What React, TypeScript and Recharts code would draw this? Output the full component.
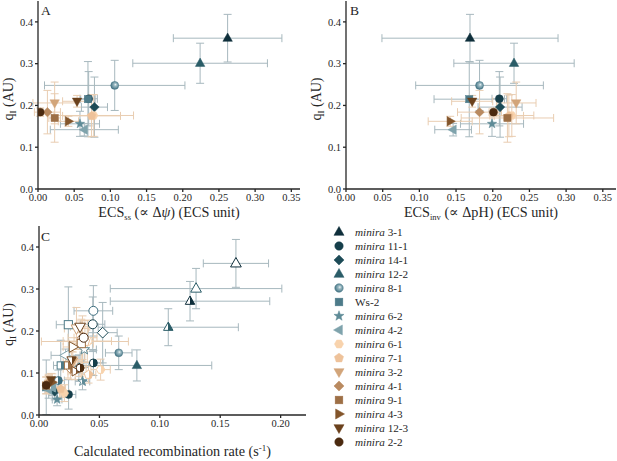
import type { ReactNode } from 'react';
import { ErrorBar, Scatter, ScatterChart, XAxis, YAxis } from 'recharts';

const strains = [
  'minira 3-1', 'minira 11-1', 'minira 14-1', 'minira 12-2',
  'minira 8-1', 'Ws-2', 'minira 6-2', 'minira 4-2',
  'minira 6-1', 'minira 7-1', 'minira 3-2', 'minira 4-1',
  'minira 9-1', 'minira 4-3', 'minira 12-3', 'minira 2-2',
];

// q_I and its error (same condition in A, B and the open markers of C)
const qI = [0.361, 0.216, 0.196, 0.301, 0.248, 0.215, 0.156, 0.142, 0.176, 0.175, 0.206, 0.184, 0.170, 0.162, 0.210, 0.184];
const qIErr = [0.057, 0.065, 0.072, 0.048, 0.060, 0.090, 0.030, 0.015, 0.050, 0.050, 0.050, 0.052, 0.058, 0.012, 0.014, 0.010];

// panel A
const ecsSs = [0.262, 0.070, 0.078, 0.224, 0.106, 0.069, 0.058, 0.064, 0.077, 0.074, 0.023, 0.013, 0.023, 0.042, 0.054, 0.003];
const ecsSsErr = [0.075, 0.012, 0.018, 0.093, 0.097, 0.010, 0.027, 0.047, 0.055, 0.040, 0.030, 0.018, 0.008, 0.014, 0.020, 0.004];

// panel B
const ecsInv = [0.169, 0.209, 0.210, 0.229, 0.182, 0.168, 0.199, 0.146, 0.226, 0.222, 0.232, 0.182, 0.220, 0.142, 0.172, 0.201];
const ecsInvErr = [0.120, 0.010, 0.030, 0.082, 0.087, 0.048, 0.043, 0.025, 0.030, 0.020, 0.027, 0.030, 0.063, 0.030, 0.028, 0.006];

// panel C, open markers
const rateHigh = [0.163, 0.0445, 0.0527, 0.130, 0.045, 0.0243, 0.0375, 0.022, 0.040, 0.038, 0.031, 0.036, 0.035, 0.028, 0.034, 0.037];
const rateHighErr = [0.027, 0.010, 0.012, 0.071, 0.016, 0.010, 0.010, 0.012, 0.020, 0.036, 0.010, 0.012, 0.010, 0.008, 0.008, 0.008];

// panel C, half-filled markers
const rateMid = [0.125, 0.045, 0.033, 0.107, 0.016, 0.018, 0.036, 0.011, 0.051, 0.041, 0.028, 0.026, 0.024, 0.030, 0.027, 0.034];
const rateMidErr = [0.066, 0.008, 0.008, 0.058, 0.005, 0.006, 0.006, 0.004, 0.008, 0.006, 0.008, 0.006, 0.006, 0.006, 0.005, 0.005];
const qIMid = [0.271, 0.124, 0.113, 0.209, 0.082, 0.118, 0.080, 0.066, 0.108, 0.096, 0.128, 0.110, 0.118, 0.104, 0.131, 0.112];
const qIMidErr = [0.047, 0.030, 0.030, 0.044, 0.025, 0.060, 0.020, 0.020, 0.025, 0.020, 0.030, 0.025, 0.030, 0.020, 0.020, 0.020];

// panel C, filled markers (no value for 3-1)
const rateLow = [null, 0.0245, 0.013, 0.081, 0.066, 0.006, 0.015, 0.008, 0.021, 0.018, 0.008, 0.008, 0.006, 0.011, 0.010, 0.006];
const rateLowErr = [0, 0.006, 0.004, 0.062, 0.011, 0.003, 0.004, 0.003, 0.004, 0.004, 0.003, 0.003, 0.003, 0.003, 0.003, 0.003];
const qILow = [null, 0.049, 0.056, 0.118, 0.148, 0.066, 0.037, 0.060, 0.052, 0.062, 0.074, 0.077, 0.070, 0.078, 0.084, 0.071];
const qILowErr = [0, 0.035, 0.020, 0.037, 0.040, 0.065, 0.015, 0.020, 0.020, 0.020, 0.020, 0.020, 0.020, 0.020, 0.015, 0.020];

const xTicksAB = [0, 0.05, 0.1, 0.15, 0.2, 0.25, 0.3, 0.35];
const xTicksC = [0, 0.05, 0.1, 0.15, 0.2];
const yTicks = [0, 0.1, 0.2, 0.3, 0.4];

// styling per strain
const shapes = [
  'triUp', 'circle', 'diamond', 'triUp', 'sphere', 'square', 'star', 'triLeft',
  'hexagon', 'pentagon', 'triDown', 'diamond', 'square', 'triRight', 'triDown', 'circle',
];
const colors = [
  '#0f2f3b', '#163f4b', '#1d4b57', '#2b5d68', '#3d6e7f', '#4d7b89', '#5e8b97', '#7fa3ac',
  '#f8d3ad', '#eec29a', '#d2a57a', '#b98a60', '#9d6f45', '#83552b', '#6b411c', '#4b2a10',
];

const SERIF = '"Liberation Serif", "DejaVu Serif", serif';
const INK = '#262626';
const errColor = (i: number) => (i < 8 ? '#a7b8be' : '#e9cdb1');

type Mode = 'full' | 'open' | 'half';
type Row = { x: number; y: number; ex: number; ey: number; s: number; mode: Mode };

function Glyph({ s, cx, cy, r, mode }: { s: number; cx: number; cy: number; r: number; mode: Mode }) {
  const kind = shapes[s];
  const color = colors[s];
  const fill =
    mode === 'open' ? '#fff' : mode === 'half' ? `url(#half${s})` : kind === 'sphere' ? 'url(#sphere)' : color;
  const p = { fill, stroke: color, strokeWidth: mode === 'full' ? 0.5 : 1 };
  const poly = (pts: number[][]) => pts.map(([a, b]) => `${cx + a * r},${cy + b * r}`).join(' ');
  const ngon = (n: number, rot: number, rr = 1) =>
    Array.from({ length: n }, (_, k) => {
      const t = rot + (k * 2 * Math.PI) / n;
      return [rr * Math.cos(t), rr * Math.sin(t)];
    });
  switch (kind) {
    case 'triUp':
      return <polygon points={poly([[0, -1.15], [1.05, 0.7], [-1.05, 0.7]])} {...p} />;
    case 'triDown':
      return <polygon points={poly([[0, 1.15], [1.05, -0.7], [-1.05, -0.7]])} {...p} />;
    case 'triLeft':
      return <polygon points={poly([[-1.15, 0], [0.7, -1.05], [0.7, 1.05]])} {...p} />;
    case 'triRight':
      return <polygon points={poly([[1.15, 0], [-0.7, -1.05], [-0.7, 1.05]])} {...p} />;
    case 'diamond':
      return <polygon points={poly([[0, -1.05], [1.05, 0], [0, 1.05], [-1.05, 0]])} {...p} />;
    case 'square':
      return <rect x={cx - 0.8 * r} y={cy - 0.8 * r} width={1.6 * r} height={1.6 * r} {...p} />;
    case 'star': {
      const pts = Array.from({ length: 10 }, (_, k) => {
        const t = -Math.PI / 2 + (k * Math.PI) / 5;
        const rr = k % 2 === 0 ? 1.1 : 0.45;
        return [rr * Math.cos(t), rr * Math.sin(t)];
      });
      return <polygon points={poly(pts)} {...p} />;
    }
    case 'hexagon':
      return <polygon points={poly(ngon(6, 0, 0.95))} {...p} />;
    case 'pentagon':
      return <polygon points={poly(ngon(5, -Math.PI / 2, 1))} {...p} />;
    default:
      return <circle cx={cx} cy={cy} r={0.88 * r} {...p} />;
  }
}

const makeShape = (r: number) => (props: any) => {
  const { cx, cy, payload } = props;
  if (cx == null || cy == null) return <g />;
  const rr = payload.mode === 'open' ? r + 0.6 : r;
  return <Glyph s={payload.s} cx={cx} cy={cy} r={rr} mode={payload.mode} />;
};

const rowsAB = (xs: number[], xe: number[]): Row[][] =>
  strains.map((_, s) => [{ x: xs[s], y: qI[s], ex: xe[s], ey: qIErr[s], s, mode: 'full' as Mode }]);

const rowsC: Row[][] = strains.map((_, s) => {
  const out: Row[] = [];
  const low = rateLow[s];
  const lowQ = qILow[s];
  if (low != null && lowQ != null) out.push({ x: low, y: lowQ, ex: rateLowErr[s], ey: qILowErr[s], s, mode: 'full' });
  out.push({ x: rateMid[s], y: qIMid[s], ex: rateMidErr[s], ey: qIMidErr[s], s, mode: 'half' });
  out.push({ x: rateHigh[s], y: qI[s], ex: rateHighErr[s], ey: qIErr[s], s, mode: 'open' });
  return out;
});

const tickStyle = { fill: INK, fontSize: 10.5, fontFamily: SERIF };

function YTitle({ viewBox }: any) {
  const cx = viewBox.x + 12.5;
  const cy = viewBox.y + viewBox.height / 2 + 4;
  return (
    <text transform={`translate(${cx},${cy}) rotate(-90)`} textAnchor="middle" fontSize={14} fontFamily={SERIF} fill={INK}>
      q<tspan fontSize={9} dy={3}>I</tspan>
      <tspan dy={-3}> (AU)</tspan>
    </text>
  );
}

const xTitle = (content: ReactNode, dy: number) =>
  function XTitle({ viewBox }: any) {
    return (
      <text x={viewBox.x + viewBox.width / 2} y={viewBox.y + dy} textAnchor="middle" fontSize={14.2} fontFamily={SERIF} fill={INK}>
        {content}
      </text>
    );
  };

function Panel({
  width,
  height,
  xMax,
  xTicks,
  yAxisWidth,
  xAxisHeight,
  margin,
  series,
  r,
  title,
}: {
  width: number;
  height: number;
  xMax: number;
  xTicks: number[];
  yAxisWidth: number;
  xAxisHeight: number;
  margin: { top: number; right: number; bottom: number; left: number };
  series: Row[][];
  r: number;
  title: (p: any) => ReactNode;
}) {
  const line = { stroke: INK, strokeWidth: 1.3 };
  return (
    <ScatterChart width={width} height={height} margin={margin}>
      <XAxis
        type="number"
        dataKey="x"
        domain={[0, xMax]}
        allowDataOverflow
        ticks={xTicks}
        tickFormatter={(v: number) => v.toFixed(2)}
        tick={tickStyle}
        tickSize={3}
        tickMargin={2}
        height={xAxisHeight}
        axisLine={line}
        tickLine={line}
        label={{ content: title }}
      />
      <YAxis
        type="number"
        dataKey="y"
        domain={[0, 0.45]}
        allowDataOverflow
        ticks={yTicks}
        tickFormatter={(v: number) => v.toFixed(1)}
        tick={tickStyle}
        tickSize={3}
        tickMargin={2}
        width={yAxisWidth}
        axisLine={line}
        tickLine={line}
        label={{ content: YTitle }}
      />
      <XAxis xAxisId="top" orientation="top" type="number" domain={[0, 1]} height={0} tick={false} tickLine={false} axisLine={line} />
      <YAxis yAxisId="right" orientation="right" type="number" domain={[0, 1]} width={0} tick={false} tickLine={false} axisLine={line} />
      {series.map((rows, i) => (
        <Scatter key={i} data={rows} shape={makeShape(r)} isAnimationActive={false}>
          <ErrorBar dataKey="ex" direction="x" width={4} stroke={errColor(rows[0].s)} strokeWidth={1} isAnimationActive={false} />
          <ErrorBar dataKey="ey" direction="y" width={4} stroke={errColor(rows[0].s)} strokeWidth={1} isAnimationActive={false} />
        </Scatter>
      ))}
    </ScatterChart>
  );
}

function Legend() {
  return (
    <svg width={140} height={230} style={{ position: 'absolute', left: 325, top: 225 }}>
      {strains.map((name, i) => {
        const y = 7 + i * 14;
        const [first, ...rest] = name.split(' ');
        const italic = first === 'minira';
        return (
          <g key={name}>
            <Glyph s={i} cx={14} cy={y} r={4.8} mode="full" />
            <text x={30} y={y + 4} fontSize={11.2} fontFamily={SERIF} fill={INK}>
              {italic ? (
                <>
                  <tspan fontStyle="italic">{first}</tspan>
                  {' ' + rest.join(' ')}
                </>
              ) : (
                name
              )}
            </text>
          </g>
        );
      })}
    </svg>
  );
}

export default function App() {
  const letter = { fontSize: 13.5, fontFamily: SERIF, fill: INK } as const;
  return (
    <div style={{ position: 'absolute', left: 0, top: 0, width: 617, height: 461, background: '#fff' }}>
      <svg width={0} height={0} style={{ position: 'absolute' }}>
        <defs>
          <radialGradient id="sphere" cx="0.55" cy="0.45" r="0.6" fx="0.6" fy="0.4">
            <stop offset="0" stopColor="#eef4f5" />
            <stop offset="0.3" stopColor="#9bbac3" />
            <stop offset="1" stopColor="#3d6e7f" />
          </radialGradient>
          {colors.map((c, i) => (
            <linearGradient key={i} id={`half${i}`} x1="0" y1="0" x2="1" y2="0">
              <stop offset="0" stopColor="#fff" />
              <stop offset="0.5" stopColor="#fff" />
              <stop offset="0.5" stopColor={c} />
              <stop offset="1" stopColor={c} />
            </linearGradient>
          ))}
        </defs>
      </svg>

      <div style={{ position: 'absolute', left: 0, top: 0 }}>
        <Panel
          width={302}
          height={225}
          xMax={0.362}
          xTicks={xTicksAB}
          yAxisWidth={38}
          xAxisHeight={36}
          margin={{ top: 1, right: 2, bottom: 0, left: 0 }}
          series={rowsAB(ecsSs, ecsSsErr)}
          r={4.5}
          title={xTitle(
            <>
              ECS<tspan fontSize={8.5} dy={3}>ss</tspan>
              <tspan dy={-3}> (∝ Δ</tspan>
              <tspan fontStyle="italic">ψ</tspan>) (ECS unit)
            </>,
            28,
          )}
        />
      </div>

      <div style={{ position: 'absolute', left: 308, top: 0 }}>
        <Panel
          width={309}
          height={225}
          xMax={0.368}
          xTicks={xTicksAB}
          yAxisWidth={38}
          xAxisHeight={36}
          margin={{ top: 1, right: 1, bottom: 0, left: 0 }}
          series={rowsAB(ecsInv, ecsInvErr)}
          r={4.5}
          title={xTitle(
            <>
              ECS<tspan fontSize={8.5} dy={3}>inv</tspan>
              <tspan dy={-3}> (∝ ΔpH) (ECS unit)</tspan>
            </>,
            28,
          )}
        />
      </div>

      <div style={{ position: 'absolute', left: 0, top: 225 }}>
        <Panel
          width={308}
          height={236}
          xMax={0.221}
          xTicks={xTicksC}
          yAxisWidth={39}
          xAxisHeight={46}
          margin={{ top: 1, right: 2, bottom: 0, left: 0 }}
          series={rowsC}
          r={4.5}
          title={xTitle(
            <>
              Calculated recombination rate (s<tspan fontSize={9} dy={-5}>-1</tspan>
              <tspan dy={5}>)</tspan>
            </>,
            41,
          )}
        />
      </div>

      <svg width={617} height={461} style={{ position: 'absolute', left: 0, top: 0, pointerEvents: 'none' }}>
        <text x={41} y={15} {...letter}>A</text>
        <text x={350} y={15} {...letter}>B</text>
        <text x={41} y={241} {...letter}>C</text>
      </svg>

      <Legend />
    </div>
  );
}
